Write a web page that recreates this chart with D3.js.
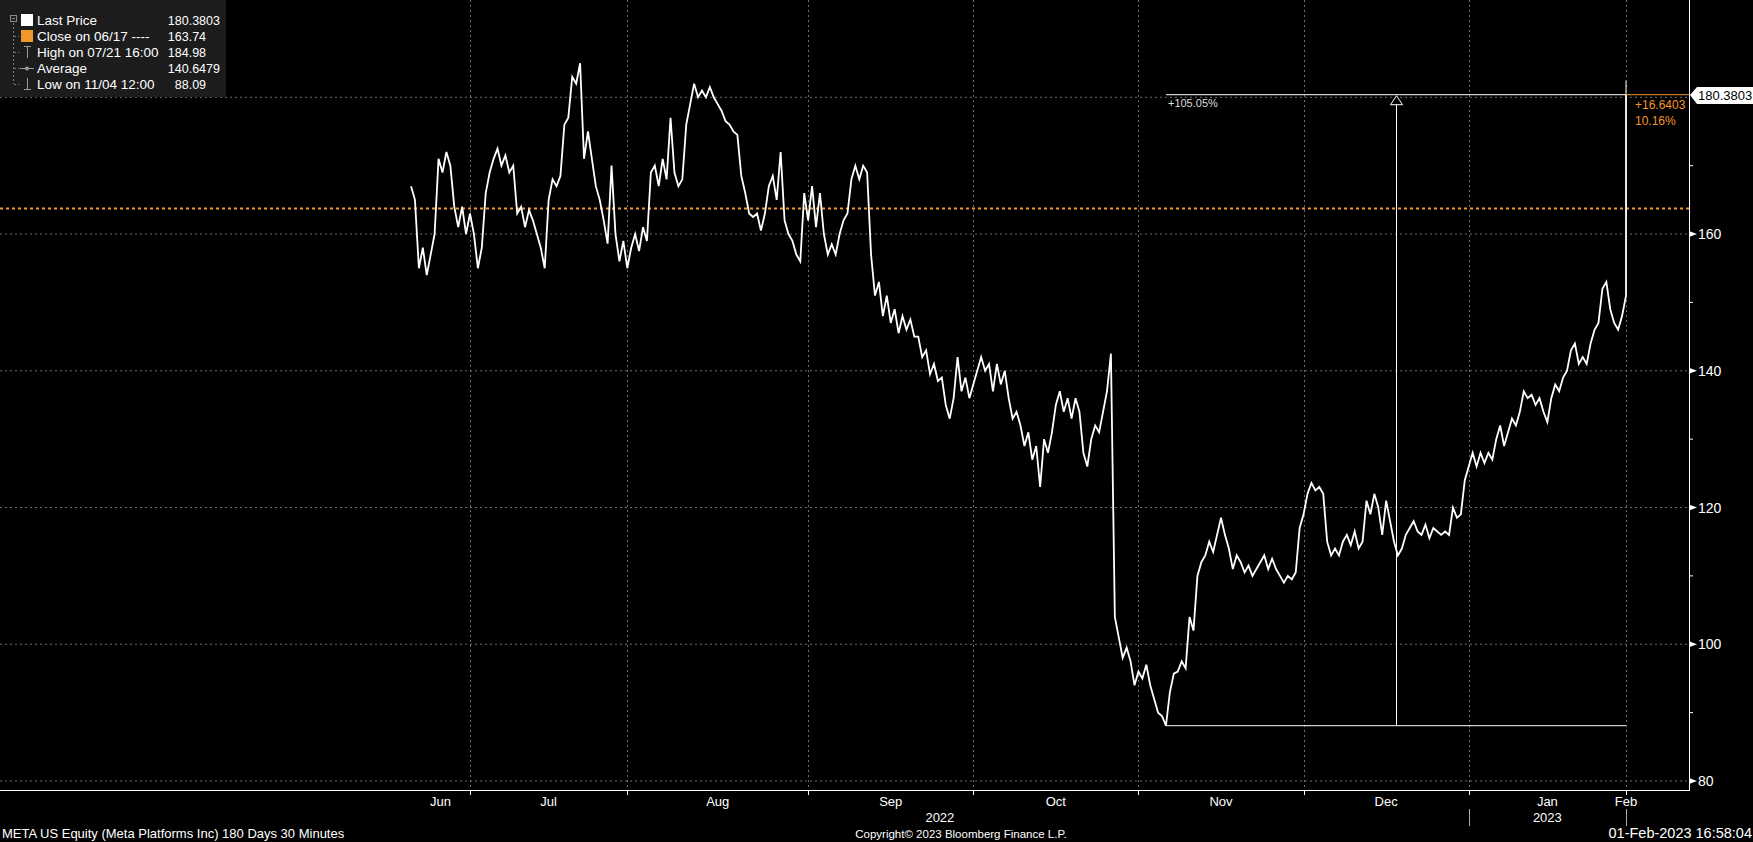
<!DOCTYPE html>
<html>
<head>
<meta charset="utf-8">
<script src="https://cdn.jsdelivr.net/npm/d3@7"></script>
<style>
  html, body { margin: 0; padding: 0; background: #000; }
  svg { display: block; }
  text { font-family: "Liberation Sans", Arial, sans-serif; }
</style>
</head>
<body>
<div class="stage"></div>
<script>
// ---- data ----
// x is counted in trading days, day 0 = first session of July 2022
var priceStartDay = -7.5;
var priceStep = 0.5;
var prices = [
  167, 165, 155, 158, 154, 157, 160, 171, 169, 172,
  170, 164, 161, 164, 160, 163, 160, 155, 158, 166,
  169, 171, 172.5, 170, 171.5, 169, 170, 163, 164, 161,
  163.5, 162, 160, 158, 155, 165, 168, 167, 168.5, 176,
  177, 183, 182, 184.98, 171, 175, 171, 167, 165, 162,
  158.6, 170, 160, 156, 159, 155, 158, 160, 157.5, 161,
  159, 169, 170, 167, 171, 168, 177, 169, 167, 168,
  176, 179, 182, 180, 181, 180, 181.5, 180, 179, 178,
  176.5, 176, 175, 174.5, 168.5, 166, 163, 162.5, 163, 160.5,
  163, 167, 168.5, 165, 172, 162, 160, 159, 157, 156,
  166, 162, 167, 161, 166, 160, 157, 158.5, 157, 160,
  162, 163, 168, 170, 168, 170, 169, 157, 151, 153,
  148, 151, 147, 149, 145.5, 148, 146, 147.5, 145, 145,
  142, 143, 139.5, 141, 138.5, 139, 135, 133, 136, 142,
  137, 139, 136, 138, 140, 142, 140, 141, 137, 141,
  138, 140, 136, 133, 134, 132, 129, 131, 127, 129,
  123, 130, 128, 131, 135, 137, 134, 136, 133, 136,
  134, 128, 126, 130, 132, 131, 134, 137, 142.5, 104,
  101, 98, 99.5, 97.5, 94, 96, 95, 97, 94, 92,
  90, 89.5, 88.09, 93, 95.7, 96, 97.5, 96.5, 104, 102,
  110, 112, 113, 115, 113.5, 116, 118.5, 116, 114, 111,
  113, 112, 110.5, 111.5, 110, 111, 112, 113, 111, 112.5,
  111, 110, 109, 110, 109.5, 110.5, 117, 119, 122, 123.6,
  122.5, 123, 122, 115, 113, 114, 113, 115, 116, 114.5,
  116.5, 114, 115, 121, 119, 122, 120, 116, 121, 118,
  115, 113, 114, 116, 117, 118, 116.5, 116, 117.5, 115.5,
  117, 116.5, 116, 116.5, 116, 120, 118.5, 119, 124, 126,
  128, 126, 128, 126.5, 128, 127, 130, 132, 129, 131,
  133, 132, 134, 137, 136, 136.5, 135, 136, 134, 132.5,
  136, 138, 137, 139, 140, 143, 144, 141, 142, 141,
  144, 146, 147, 152, 153, 149, 147, 146, 148, 151
];
var lastPrice = 180.3803;
var closeRef = 163.74;
var rangePct = "+105.05%";
var changeAbs = "+16.6403";
var changePct = "10.16%";

var monthTickDays = [0, 20, 43, 64, 85, 106, 127, 147];
var monthLabels = ["Jun", "Jul", "Aug", "Sep", "Oct", "Nov", "Dec", "Jan", "Feb"];
var yearLabels = ["2022", "2023"];
var yearBreakDay = 127;

var yMajor = [80, 100, 120, 140, 160, 180];
var yMinor = [90, 110, 130, 150, 170];

var legendNames = ["Last Price", "Close on 06/17 ----", "High on 07/21 16:00", "Average", "Low on 11/04 12:00"];
var legendValues = ["180.3803", "163.74", "184.98", "140.6479", "88.09"];
var legendIcons = ["box", "orange", "high", "avg", "low"];

var titleText = "META US Equity (Meta Platforms Inc) 180 Days 30 Minutes";
var copyText = "Copyright\u00A9 2023 Bloomberg Finance L.P.";
var stampText = "01-Feb-2023 16:58:04";

// ---- layout ----
var width = 1753, height = 842;
var plotRight = 1689, plotBottom = 790;
var orange = "#f0962a", gridCol = "#6e6e6e";

var svg = d3.select(".stage").append("svg")
  .attr("width", width)
  .attr("height", height);

svg.append("rect").attr("width", width).attr("height", height).attr("fill", "#000");

var x = d3.scaleLinear().domain([0, 147]).range([470, 1626]);
var y = d3.scaleLinear().domain([80, 180]).range([781, 97.3]);

var series = prices.map(function(v, i) { return {day: priceStartDay + i * priceStep, v: v}; });
var endDay = series[series.length - 1].day;
series.push({day: endDay, v: lastPrice});

// grid
svg.append("g").selectAll("line").data(yMajor).enter().append("line")
  .attr("x1", 0).attr("x2", plotRight)
  .attr("y1", function(d) { return y(d); }).attr("y2", function(d) { return y(d); })
  .attr("stroke", gridCol).attr("stroke-dasharray", "2,3");
svg.append("g").selectAll("line").data(monthTickDays).enter().append("line")
  .attr("x1", function(d) { return Math.round(x(d)) + 0.5; })
  .attr("x2", function(d) { return Math.round(x(d)) + 0.5; })
  .attr("y1", 0).attr("y2", plotBottom)
  .attr("stroke", gridCol).attr("stroke-dasharray", "2,3");

// close on 06/17 reference
svg.append("line")
  .attr("x1", 0).attr("x2", plotRight)
  .attr("y1", y(closeRef)).attr("y2", y(closeRef))
  .attr("stroke", orange).attr("stroke-width", 2).attr("stroke-dasharray", "3,3");

// price line
var priceLine = d3.line()
  .x(function(d) { return x(d.day); })
  .y(function(d) { return y(d.v); });
svg.append("path")
  .datum(series)
  .attr("fill", "none")
  .attr("stroke", "#fff")
  .attr("stroke-width", 1.8)
  .attr("stroke-linejoin", "miter")
  .attr("d", priceLine);

// low-to-last range annotation
var lowIdx = d3.minIndex(prices);
var lowDay = series[lowIdx].day;
var lowVal = prices[lowIdx];
var ann = svg.append("g").attr("stroke", "#fff").attr("fill", "none");
ann.append("line").attr("x1", x(lowDay)).attr("x2", x(endDay))
  .attr("y1", y(lastPrice)).attr("y2", y(lastPrice));
ann.append("line").attr("x1", x(lowDay)).attr("x2", x(endDay))
  .attr("y1", y(lowVal)).attr("y2", y(lowVal));
var midX = Math.round(x((lowDay + endDay) / 2)) + 0.5;
ann.append("line").attr("x1", midX).attr("x2", midX)
  .attr("y1", y(lowVal)).attr("y2", y(lastPrice) + 10);
ann.append("path")
  .attr("d", "M" + midX + "," + (y(lastPrice) + 1) + " L" + (midX + 6) + "," + (y(lastPrice) + 10) +
    " L" + (midX - 6) + "," + (y(lastPrice) + 10) + " Z")
  .attr("fill", "#000");
ann.append("line").attr("x1", x(endDay)).attr("x2", x(endDay))
  .attr("y1", y(lastPrice) - 14).attr("y2", y(lastPrice));
svg.append("text").attr("x", x(lowDay) + 2).attr("y", y(lastPrice) + 12)
  .attr("fill", "#ddd").attr("font-size", 11).text(rangePct);

// change vs close
svg.append("line").attr("x1", x(endDay)).attr("x2", plotRight)
  .attr("y1", y(lastPrice)).attr("y2", y(lastPrice))
  .attr("stroke", orange);
svg.append("text").attr("x", x(endDay) + 9).attr("y", y(lastPrice) + 14)
  .attr("fill", orange).attr("font-size", 12).text(changeAbs);
svg.append("text").attr("x", x(endDay) + 9).attr("y", y(lastPrice) + 30)
  .attr("fill", orange).attr("font-size", 12).text(changePct);

// axes frame
svg.append("line").attr("x1", 0).attr("x2", plotRight)
  .attr("y1", plotBottom + 0.5).attr("y2", plotBottom + 0.5).attr("stroke", "#fff");
svg.append("line").attr("x1", plotRight + 0.5).attr("x2", plotRight + 0.5)
  .attr("y1", 0).attr("y2", plotBottom + 1).attr("stroke", "#fff");

// right axis
var ra = svg.append("g");
yMajor.filter(function(d) { return d < 180; }).forEach(function(d) {
  var yy = y(d);
  ra.append("path")
    .attr("d", "M" + plotRight + "," + (yy - 3) + " L" + (plotRight + 8) + "," + yy + " L" + plotRight + "," + (yy + 3) + " Z")
    .attr("fill", "#fff");
  ra.append("text").attr("x", plotRight + 9).attr("y", yy + 5)
    .attr("fill", "#fff").attr("font-size", 14).text(d);
});
ra.selectAll(".minor").data(yMinor).enter().append("line")
  .attr("class", "minor")
  .attr("x1", plotRight).attr("x2", plotRight + 4)
  .attr("y1", function(d) { return y(d); }).attr("y2", function(d) { return y(d); })
  .attr("stroke", "#fff");

// last price tag
var ly = Math.round(y(lastPrice));
ra.append("path")
  .attr("d", "M" + (plotRight + 1) + "," + ly + " L" + (plotRight + 8) + "," + (ly - 8) +
    " L" + width + "," + (ly - 8) + " L" + width + "," + (ly + 9) + " L" + (plotRight + 8) + "," + (ly + 9) + " Z")
  .attr("fill", "#fff");
ra.append("text").attr("x", plotRight + 9).attr("y", ly + 5)
  .attr("fill", "#000").attr("font-size", 13).text(lastPrice.toFixed(4));

// bottom axis
var ba = svg.append("g").attr("fill", "#fff").attr("font-size", 13);
ba.selectAll("line").data(monthTickDays).enter().append("line")
  .attr("x1", function(d) { return Math.round(x(d)) + 0.5; })
  .attr("x2", function(d) { return Math.round(x(d)) + 0.5; })
  .attr("y1", plotBottom).attr("y2", plotBottom + 5)
  .attr("stroke", "#fff");
var bounds = [priceStartDay].concat(monthTickDays);
monthLabels.forEach(function(m, i) {
  var a = bounds[i], b = i + 1 < bounds.length ? bounds[i + 1] : endDay;
  ba.append("text").attr("x", x((a + b) / 2)).attr("y", 806)
    .attr("text-anchor", "middle").text(m);
});
var yearSpans = [[priceStartDay, yearBreakDay], [yearBreakDay, endDay]];
yearSpans.forEach(function(s, i) {
  ba.append("text").attr("x", x((s[0] + s[1]) / 2)).attr("y", 822)
    .attr("text-anchor", "middle").text(yearLabels[i]);
});
[yearBreakDay, endDay].forEach(function(d) {
  ba.append("line")
    .attr("x1", Math.round(x(d)) + 0.5).attr("x2", Math.round(x(d)) + 0.5)
    .attr("y1", 809).attr("y2", 826).attr("stroke", "#aaa");
});

// footer
svg.append("text").attr("x", 2).attr("y", 838).attr("fill", "#fff").attr("font-size", 13).text(titleText);
svg.append("text").attr("x", 961).attr("y", 838).attr("fill", "#fff").attr("font-size", 11.5)
  .attr("text-anchor", "middle").text(copyText);
svg.append("text").attr("x", 1752).attr("y", 838).attr("fill", "#fff").attr("font-size", 14.5)
  .attr("text-anchor", "end").text(stampText);

// legend
var lg = svg.append("g");
lg.append("rect").attr("x", 0).attr("y", 0).attr("width", 226).attr("height", 97).attr("fill", "#1c1c1c");
lg.append("rect").attr("x", 10.5).attr("y", 15.5).attr("width", 6).attr("height", 6)
  .attr("fill", "none").attr("stroke", "#888");
lg.append("line").attr("x1", 12).attr("x2", 15).attr("y1", 18.5).attr("y2", 18.5).attr("stroke", "#888");
lg.append("line").attr("x1", 13.5).attr("x2", 13.5).attr("y1", 23).attr("y2", 84)
  .attr("stroke", "#777").attr("stroke-dasharray", "2,2");
legendNames.forEach(function(name, i) {
  var cy = 20 + i * 16;
  var icon = legendIcons[i];
  if (i > 0) {
    lg.append("line").attr("x1", 14).attr("x2", 19).attr("y1", cy + 0.5).attr("y2", cy + 0.5)
      .attr("stroke", "#777").attr("stroke-dasharray", "2,2");
  }
  if (icon === "box" || icon === "orange") {
    lg.append("rect").attr("x", 21).attr("y", cy - 6).attr("width", 12).attr("height", 12)
      .attr("fill", icon === "box" ? "#fff" : orange);
  } else if (icon === "high" || icon === "low") {
    var top = icon === "high";
    lg.append("line").attr("x1", 27.5).attr("x2", 27.5).attr("y1", cy - 6).attr("y2", cy + 6).attr("stroke", "#999");
    lg.append("line").attr("x1", 24).attr("x2", 31)
      .attr("y1", top ? cy - 5.5 : cy + 5.5).attr("y2", top ? cy - 5.5 : cy + 5.5).attr("stroke", "#999");
  } else {
    lg.append("line").attr("x1", 20).attr("x2", 34).attr("y1", cy + 0.5).attr("y2", cy + 0.5).attr("stroke", "#999");
    lg.append("circle").attr("cx", 27).attr("cy", cy + 0.5).attr("r", 2).attr("fill", "#999");
  }
  lg.append("text").attr("x", 37).attr("y", cy + 5).attr("fill", "#fff").attr("font-size", 13.5).text(name);
  var parts = legendValues[i].split(".");
  lg.append("text").attr("x", 188.7).attr("y", cy + 5).attr("fill", "#fff").attr("font-size", 12.5)
    .attr("text-anchor", "end").text(parts[0]);
  lg.append("text").attr("x", 188.7).attr("y", cy + 5).attr("fill", "#fff").attr("font-size", 12.5)
    .text("." + parts[1]);
});
</script>
</body>
</html>
